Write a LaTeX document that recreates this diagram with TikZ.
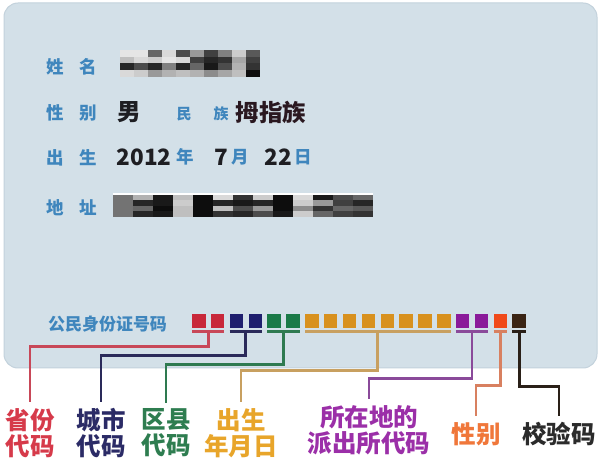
\documentclass[tikz,border=0pt]{standalone}
\usepackage{fontspec}
\newfontfamily\cjk{Noto Sans CJK SC}
\usetikzlibrary{calc}
\definecolor{cardc}{HTML}{D3E0E8}
\definecolor{cardedge}{HTML}{C3D2DC}
\definecolor{lblue}{HTML}{3F86BD}
\definecolor{ink}{HTML}{1E1E22}
\definecolor{inkred}{HTML}{2A1820}
\definecolor{sqred}{HTML}{C8283A}
\definecolor{sqblue}{HTML}{1E1F6E}
\definecolor{sqgreen}{HTML}{1A7A48}
\definecolor{sqorange}{HTML}{D8911E}
\definecolor{sqpurple}{HTML}{8A1A9A}
\definecolor{sqored}{HTML}{F04A1A}
\definecolor{sqbrown}{HTML}{3A2414}
\definecolor{lnred}{HTML}{C84858}
\definecolor{lnblue}{HTML}{2A2A5A}
\definecolor{lngreen}{HTML}{2E7A50}
\definecolor{lnorange}{HTML}{C8A060}
\definecolor{lnpurple}{HTML}{8A4A9A}
\definecolor{lnored}{HTML}{D88060}
\definecolor{lnbrown}{HTML}{2A2018}
\definecolor{txred}{HTML}{D63A4A}
\definecolor{txblue}{HTML}{2B2B66}
\definecolor{txgreen}{HTML}{2E7D50}
\definecolor{txorange}{HTML}{E8A52A}
\definecolor{txpurple}{HTML}{9B2FA8}
\definecolor{txored}{HTML}{F0773A}
\definecolor{txbrown}{HTML}{2B2B2B}
\tikzset{
  fld/.style={inner sep=0pt, text=lblue, font=\cjk\bfseries\fontsize{17.5}{19}\selectfont},
  fldsmall/.style={inner sep=0pt, text=lblue, font=\cjk\bfseries\fontsize{15}{17}\selectfont},
  val/.style={inner sep=0pt, text=ink, font=\cjk\bfseries\fontsize{23.5}{25}\selectfont},
  sqbox/.style={minimum size=13.5pt, inner sep=0pt, outer sep=0pt},
  uline/.style={line width=2.6pt},
  conn/.style={line width=2.8pt},
  lab/.style={inner sep=6pt, align=center, font=\cjk\bfseries\fontsize{24.5}{26}\selectfont}
}
\begin{document}
\begin{tikzpicture}[x=1pt,y=-1pt]
\useasboundingbox (0,0) rectangle (600,462);
\fill[white] (0,0) rectangle (600,462);
\draw[draw=cardedge, line width=1pt, fill=cardc, rounded corners=14pt] (4,3) rectangle (597,368);

% field labels
\node[fld] (f1a) at (55,67) {姓};
\node[fld] (f1b) at (88.5,67) {名};
\node[fld] (f2a) at (55,113) {性};
\node[fld] (f2b) at (88.5,113) {别};
\node[fld] (f3a) at (55,158) {出};
\node[fld] (f3b) at (88.5,158) {生};
\node[fld] (f4a) at (55,208) {地};
\node[fld] (f4b) at (88.5,208) {址};

% name mosaic
\foreach \a/\b/\c/\d [count=\i from 0] in {10/25/85/15, 10/15/70/20, 60/20/85/40, 15/10/50/30, 70/15/85/25, 40/75/60/30, 75/85/90/45, 50/80/70/35, 20/35/30/25, 65/75/80/95}{
  \fill[black!\a] (120+14*\i,50) rectangle (134+14*\i,56.75);
  \fill[black!\b] (120+14*\i,56.75) rectangle (134+14*\i,63.5);
  \fill[black!\c] (120+14*\i,63.5) rectangle (134+14*\i,70.25);
  \fill[black!\d] (120+14*\i,70.25) rectangle (134+14*\i,77);
}

% gender / ethnicity
\node[val] (sex) at (129,112) {男};
\node[fldsmall] (ma) at (184,114) {民};
\node[fldsmall] (mb) at (221,114) {族};
\node[val, text=inkred] (eth) at (271,112) {拇指族};

% birth
\node[val, font=\cjk\bfseries\fontsize{22.5}{24}\selectfont] (yr) at (144,157) {2012};
\node[fld] (yrc) at (185,157) {年};
\node[val, font=\cjk\bfseries\fontsize{22.5}{24}\selectfont] (mo) at (221,157) {7};
\node[fld] (moc) at (240,157) {月};
\node[val, font=\cjk\bfseries\fontsize{22.5}{24}\selectfont] (dy) at (278,157) {22};
\node[fld] (dyc) at (303,157) {日};

% address mosaic
\foreach \a/\b/\c/\d [count=\i from 0] in {55/55/55/55, 30/85/60/85, 90/90/95/90, 25/20/25/25, 95/95/95/95, 15/85/25/80, 80/90/70/85, 20/85/40/70, 95/95/95/90, 15/20/45/20, 90/40/80/60, 70/75/60/75, 60/85/65/80}{
  \fill[black!\a] (113+20*\i,195) rectangle (133+20*\i,200.5);
  \fill[black!\b] (113+20*\i,200.5) rectangle (133+20*\i,206);
  \fill[black!\c] (113+20*\i,206) rectangle (133+20*\i,211.5);
  \fill[black!\d] (113+20*\i,211.5) rectangle (133+20*\i,217);
}
\fill[white] (113,193) rectangle (373,195);

% ID number caption
\node[fld, font=\cjk\bfseries\fontsize{17}{19}\selectfont] (idl) at (107.5,324) {公民身份证号码};

% squares
\foreach \col [count=\i from 0] in {sqred,sqred,sqblue,sqblue,sqgreen,sqgreen,sqorange,sqorange,sqorange,sqorange,sqorange,sqorange,sqorange,sqorange,sqpurple,sqpurple,sqored,sqbrown}{
  \node[sqbox, fill=\col] (s\i) at (198.75+18.85*\i,321) {};
}

% underlines
\draw[uline, lnred]    ($(s0.south west)+(0,4)$)  -- ($(s1.south east)+(0,4)$);
\draw[uline, lnblue]   ($(s2.south west)+(0,4)$)  -- ($(s3.south east)+(0,4)$);
\draw[uline, lngreen]  ($(s4.south west)+(0,4)$)  -- ($(s5.south east)+(0,4)$);
\draw[uline, lnorange] ($(s6.south west)+(0,4)$)  -- ($(s13.south east)+(0,4)$);
\draw[uline, lnpurple] ($(s14.south west)+(0,4)$) -- ($(s15.south east)+(0,4)$);
\draw[uline, lnored]   ($(s16.south west)+(0,4)$) -- ($(s16.south east)+(0,4)$);
\draw[uline, lnbrown]  ($(s17.south west)+(0,4)$) -- ($(s17.south east)+(0,4)$);

\coordinate (u1) at ($(s0.south west)!.5!(s1.south east)+(0,4)$);
\coordinate (u2) at ($(s2.south west)!.5!(s3.south east)+(0,4)$);
\coordinate (u3) at ($(s4.south west)!.5!(s5.south east)+(0,4)$);
\coordinate (u4) at ($(s6.south west)!.5!(s13.south east)+(0,4)$);
\coordinate (u5) at ($(s14.south west)!.5!(s15.south east)+(0,4)$);
\coordinate (u6) at ($(s16.south)+(0,4)$);
\coordinate (u7) at ($(s17.south)+(0,4)$);

% labels
\node[lab, text=txred]    (l1) at (30,433)  {省份\\代码};
\node[lab, text=txblue]   (l2) at (101,433) {城市\\代码};
\node[lab, text=txgreen]  (l3) at (166,433) {区县\\代码};
\node[lab, text=txorange] (l4) at (241,433) {出生\\年月日};
\node[lab, text=txpurple] (l5) at (369,430) {所在地的\\派出所代码};
\node[lab, text=txored]   (l6) at (476,434) {性别};
\node[lab, text=txbrown]  (l7) at (559,434) {校验码};

% connectors
\draw[conn, lnred]    (u1) -- ++(0,15) -| (l1.north);
\draw[conn, lnblue]   (u2) -- ++(0,24) -| (l2.north);
\draw[conn, lngreen]  (u3) -- ++(0,33) -| (l3.north);
\draw[conn, lnorange] (u4) -- ++(0,39) -| (l4.north);
\draw[conn, lnpurple] (u5) -- ++(0,47) -| (l5.north);
\draw[conn, lnored]   (u6) -- ++(0,54) -| (l6.north);
\draw[conn, lnbrown]  (u7) -- ++(0,55) -| (l7.north);
\end{tikzpicture}
\end{document}
